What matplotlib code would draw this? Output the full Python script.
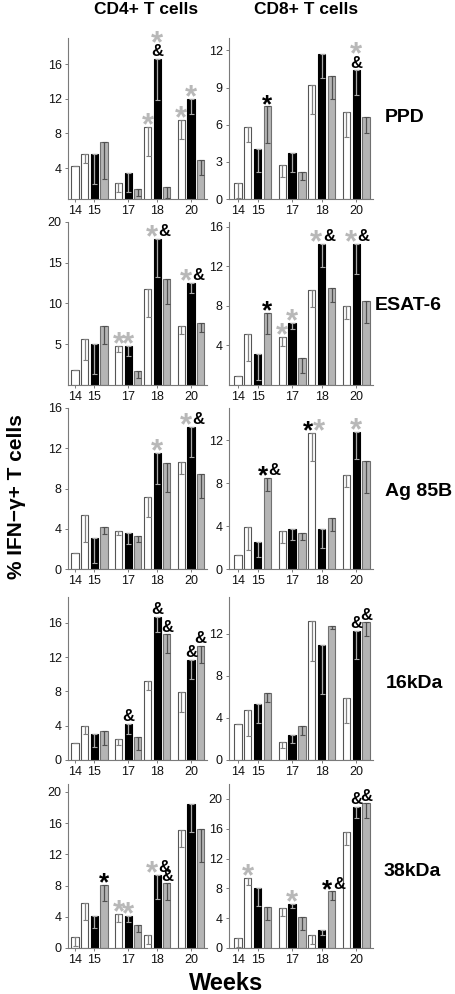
import matplotlib
matplotlib.use("Agg")
import matplotlib.pyplot as plt
from matplotlib.textpath import TextPath
from matplotlib.font_manager import FontProperties
import numpy as np

# ---------------- data ----------------
weeks = ['14', '15', '17', '18', '20']
antigens = ['PPD', 'ESAT-6', 'Ag 85B', '16kDa', '38kDa']
cells = ['CD4+ T cells', 'CD8+ T cells']

# white series: weeks 14,15,17,18,20 ; black & gray: weeks 15,17,18,20
cd4_white = [
    [4.3, 5.65, 2.3, 8.7, 9.55],
    [1.9, 5.6, 4.8, 11.8, 7.3],
    [1.6, 5.4, 3.8, 7.15, 10.6],
    [1.95, 3.95, 2.4, 9.2, 7.9],
    [1.4, 5.8, 4.4, 1.7, 15.15],
]
cd4_white_err = [
    [0, 1.0, 1.1, 3.3, 2.15],
    [0, 2.5, 0.7, 3.4, 1.0],
    [0, 2.75, 0.4, 1.95, 1.2],
    [0, 0.95, 0.6, 1.05, 2.35],
    [1.2, 2.2, 1.1, 1.15, 2.2],
]
cd4_black = [
    [5.65, 3.4, 16.6, 12.0],
    [5.0, 4.8, 17.9, 12.5],
    [3.1, 3.6, 11.5, 14.1],
    [3.0, 4.25, 16.7, 11.7],
    [4.15, 4.15, 9.4, 18.4],
]
cd4_black_err = [
    [3.5, 2.2, 4.7, 1.7],
    [3.7, 1.2, 4.6, 1.2],
    [2.5, 1.1, 3.1, 3.0],
    [1.45, 1.25, 1.75, 2.3],
    [1.65, 0.85, 3.15, 3.6],
]
cd4_gray = [
    [7.0, 1.65, 1.85, 4.95],
    [7.3, 1.7, 12.95, 7.6],
    [4.2, 3.3, 10.5, 9.4],
    [3.4, 2.7, 14.65, 13.3],
    [8.1, 3.0, 8.3, 15.25],
]
cd4_gray_err = [
    [4.2, 0.85, 1.25, 1.75],
    [2.3, 0.8, 3.05, 1.1],
    [0.7, 0.6, 2.8, 2.35],
    [1.6, 1.5, 2.15, 2.05],
    [2.1, 0.95, 2.1, 4.25],
]

cd8_white = [
    [1.3, 5.8, 2.75, 9.2, 7.0],
    [0.95, 5.2, 4.9, 9.6, 8.0],
    [1.3, 3.9, 3.55, 12.7, 8.75],
    [3.4, 4.8, 1.75, 13.2, 5.9],
    [1.4, 9.45, 5.4, 1.8, 15.6],
]
cd8_white_err = [
    [1.2, 1.2, 1.0, 2.3, 2.0],
    [0, 2.8, 1.0, 1.7, 1.3],
    [0, 2.1, 1.15, 2.6, 1.1],
    [0, 2.5, 0.6, 3.8, 2.35],
    [1.2, 1.05, 1.15, 1.2, 1.8],
]
cd8_black = [
    [4.0, 3.7, 11.7, 10.4],
    [3.1, 6.3, 14.3, 14.3],
    [2.5, 3.7, 3.7, 12.8],
    [5.3, 2.4, 10.9, 12.3],
    [8.0, 5.95, 2.4, 18.95],
]
cd8_black_err = [
    [1.8, 1.5, 1.9, 2.0],
    [2.6, 0.6, 2.4, 3.1],
    [1.4, 1.0, 1.7, 2.55],
    [1.8, 0.8, 4.6, 2.7],
    [2.4, 0.65, 0.7, 1.55],
]
cd8_gray = [
    [7.5, 2.2, 9.9, 6.6],
    [7.3, 2.7, 9.8, 8.5],
    [8.5, 3.35, 4.75, 10.1],
    [6.4, 3.2, 12.7, 13.1],
    [5.5, 4.1, 7.6, 19.4],
]
cd8_gray_err = [
    [3.0, 0.7, 1.85, 1.3],
    [2.1, 1.5, 1.4, 2.2],
    [1.2, 0.65, 1.25, 3.0],
    [0.9, 0.8, 0.2, 1.3],
    [1.7, 1.7, 1.1, 1.9],
]

# significance marks: (series, week, layout, [(symbol, colour-key)])
cd4_marks = [
    [('white', '18', 'v', [('*', 'g')]), ('black', '18', 'v', [('&', 'k'), ('*', 'g')]),
     ('white', '20', 'v', [('*', 'g')]), ('black', '20', 'v', [('*', 'g')])],
    [('white', '17', 'v', [('*', 'g')]), ('black', '17', 'v', [('*', 'g')]),
     ('black', '18', 'h', [('*', 'g'), ('&', 'k')]), ('black', '20', 'h', [('*', 'g'), ('&', 'k')])],
    [('black', '18', 'v', [('*', 'g')]), ('black', '20', 'h', [('*', 'g'), ('&', 'k')])],
    [('black', '17', 'v', [('&', 'k')]), ('black', '18', 'v', [('&', 'k')]), ('gray', '18', 'v', [('&', 'k')]),
     ('black', '20', 'v', [('&', 'k')]), ('gray', '20', 'v', [('&', 'k')])],
    [('gray', '15', 'v', [('*', 'k')]), ('white', '17', 'v', [('*', 'g')]), ('black', '17', 'v', [('*', 'g')]),
     ('black', '18', 'h', [('*', 'g'), ('&', 'k')]), ('gray', '18', 'v', [('&', 'k')])],
]
cd8_marks = [
    [('gray', '15', 'v', [('*', 'k')]), ('black', '20', 'v', [('&', 'k'), ('*', 'g')])],
    [('gray', '15', 'v', [('*', 'k')]), ('white', '17', 'v', [('*', 'g')]), ('black', '17', 'v', [('*', 'g')]),
     ('black', '18', 'h', [('*', 'g'), ('&', 'k')]), ('black', '20', 'h', [('*', 'g'), ('&', 'k')])],
    [('gray', '15', 'h', [('*', 'k'), ('&', 'k')]), ('white', '18', 'h', [('*', 'k'), ('*', 'g')]),
     ('black', '20', 'v', [('*', 'g')])],
    [('black', '20', 'v', [('&', 'k')]), ('gray', '20', 'v', [('&', 'k')])],
    [('white', '15', 'v', [('*', 'g')]), ('black', '17', 'v', [('*', 'g')]),
     ('gray', '18', 'h', [('*', 'k'), ('&', 'k')]), ('black', '20', 'v', [('&', 'k')]),
     ('gray', '20', 'v', [('&', 'k')])],
]

cd4_ylim = [(0.45, 19), (0, 20), (0, 16), (0, 19), (0, 21)]
cd8_ylim = [(0, 13), (0, 16.5), (0, 15), (0, 15.5), (0, 22)]
cd4_yticks = [[4, 8, 12, 16], [5, 10, 15, 20], [0, 4, 8, 12, 16], [0, 4, 8, 12, 16], [0, 4, 8, 12, 16, 20]]
cd8_yticks = [[0, 3, 6, 9, 12], [4, 8, 12, 16], [0, 4, 8, 12], [0, 4, 8, 12], [0, 4, 8, 12, 16, 20]]

# ---------------- layout ----------------
W, H = 456, 994
FONT = 'Liberation Sans'
plt.rcParams['font.family'] = [FONT, 'DejaVu Sans']

# bar slot positions
white_pos = {'14': 0, '15': 1, '17': 4.5, '18': 7.5, '20': 11}
black_pos = {'15': 2, '17': 5.5, '18': 8.5, '20': 12}
gray_pos = {'15': 3, '17': 6.5, '18': 9.5, '20': 13}
tick_pos = [0, 2, 5.5, 8.5, 12]

row_top = [38, 222, 408, 597, 784]
row_bot = [199, 385, 569, 760, 948]
col_left = [68, 229]
col_right = [207, 373]
col_xlim = [(-0.72, 13.65), (-0.9, 13.7)]

COL_GRAY = '#b5b5b5'
STAR_GRAY = '#b8b8b8'
mark_color = {'k': 'black', 'g': STAR_GRAY}

# glyph sizing (target visual heights in points)
BOLD = FontProperties(family=FONT, weight='bold')


def glyph_ext(sym, fs):
    e = TextPath((0, 0), sym, size=fs, prop=BOLD).get_extents()
    return e.y0, e.y1


_s0, _s1 = glyph_ext('*', 10)
STAR_FS = {'g': 8.3 / ((_s1 - _s0) / 10), 'k': 7.0 / ((_s1 - _s0) / 10)}
AMP_FS = 12


def sym_fs(sym, c):
    return STAR_FS[c] if sym == '*' else AMP_FS


fig = plt.figure(figsize=(W / 100, H / 100), dpi=100)

BW = 0.74


def draw_marks(ax, marks, series_vals):
    for series, wk, layout, items in marks:
        if series == 'white':
            x = white_pos[wk]
            y = series_vals['white'][weeks.index(wk)]
        elif series == 'black':
            x = black_pos[wk]
            y = series_vals['black'][weeks.index(wk) - 1]
        else:
            x = gray_pos[wk]
            y = series_vals['gray'][weeks.index(wk) - 1]
        gap = 1.8
        if layout == 'v':
            cursor = gap
            for sym, c in items:
                fs = sym_fs(sym, c)
                y0, y1 = glyph_ext(sym, fs)
                ax.annotate(sym, (x, y), xytext=(0, cursor - y0), textcoords='offset points',
                            ha='center', va='baseline', fontsize=fs, fontweight='bold',
                            color=mark_color[c], annotation_clip=False)
                cursor += (y1 - y0) + 1.5
        else:
            xc = x + 0.1
            for i, (sym, c) in enumerate(items):
                fs = sym_fs(sym, c)
                y0, y1 = glyph_ext(sym, fs)
                ha = 'right' if i == 0 else 'left'
                dx = -0.2 if i == 0 else 0.2
                ax.annotate(sym, (xc, y), xytext=(dx, gap - y0), textcoords='offset points',
                            ha=ha, va='baseline', fontsize=fs, fontweight='bold',
                            color=mark_color[c], annotation_clip=False)


for ci in range(2):
    whites = [cd4_white, cd8_white][ci]
    whites_e = [cd4_white_err, cd8_white_err][ci]
    blacks = [cd4_black, cd8_black][ci]
    blacks_e = [cd4_black_err, cd8_black_err][ci]
    grays = [cd4_gray, cd8_gray][ci]
    grays_e = [cd4_gray_err, cd8_gray_err][ci]
    marks = [cd4_marks, cd8_marks][ci]
    ylims = [cd4_ylim, cd8_ylim][ci]
    yticks = [cd4_yticks, cd8_yticks][ci]
    for ri in range(5):
        left = col_left[ci] / W
        width = (col_right[ci] - col_left[ci]) / W
        bottom = 1 - row_bot[ri] / H
        height = (row_bot[ri] - row_top[ri]) / H
        ax = fig.add_axes([left, bottom, width, height])
        xw = [white_pos[w] for w in weeks]
        xb = [black_pos[w] for w in weeks[1:]]
        xg = [gray_pos[w] for w in weeks[1:]]
        ax.bar(xw, whites[ri], BW, color='white', edgecolor='#555555', linewidth=0.8, zorder=2,
               yerr=[whites_e[ri], [0] * 5],
               error_kw=dict(ecolor='#808080', elinewidth=0.9, capsize=1.8, capthick=0.8))
        ax.bar(xb, blacks[ri], BW, color='black', edgecolor='black', linewidth=0.8, zorder=2,
               yerr=[blacks_e[ri], [0] * 4],
               error_kw=dict(ecolor='#a8a8a8', elinewidth=0.9, capsize=1.8, capthick=0.8))
        ax.bar(xg, grays[ri], BW, color=COL_GRAY, edgecolor='#707070', linewidth=0.8, zorder=2,
               yerr=[grays_e[ri], [0] * 4],
               error_kw=dict(ecolor='#505050', elinewidth=0.9, capsize=1.8, capthick=0.8))
        ax.set_xlim(*col_xlim[ci])
        ax.set_ylim(*ylims[ri])
        ax.set_yticks(yticks[ri])
        ax.set_yticklabels([str(t) for t in yticks[ri]])
        ax.set_xticks(tick_pos)
        ax.set_xticklabels(weeks)
        for s in ['top', 'right']:
            ax.spines[s].set_visible(False)
        ax.spines['left'].set_color('#7a7a7a')
        ax.spines['bottom'].set_color('#7a7a7a')
        ax.spines['left'].set_linewidth(0.8)
        ax.spines['bottom'].set_linewidth(0.8)
        ax.tick_params(axis='y', direction='out', length=2.5, width=0.7, color='#7a7a7a',
                       labelsize=9, pad=2, labelcolor='#111111')
        ax.tick_params(axis='x', direction='out', length=2.5, width=0.7, color='#7a7a7a',
                       labelsize=9, pad=2, labelcolor='#111111')
        ax.patch.set_alpha(0)
        draw_marks(ax, marks[ri], {'white': whites[ri], 'black': blacks[ri], 'gray': grays[ri]})

# column titles
col_title_x = [146, 306]
for ci in range(2):
    fig.text(col_title_x[ci] / W, 1 - 10 / H, cells[ci], ha='center', va='center',
             fontsize=12.5, fontweight='bold')

# row labels
row_label_x = [385, 375, 385, 386, 384]
row_label_y = [118, 306, 492, 683, 871]
for ri in range(5):
    fig.text(row_label_x[ri] / W, 1 - row_label_y[ri] / H, antigens[ri], ha='left', va='center',
             fontsize=14, fontweight='bold')

fig.text(17 / W, 1 - 497 / H, '% IFN\u2212\u03b3+ T cells', rotation=90, ha='center', va='center',
         fontsize=15, fontweight='bold')
fig.text(226 / W, 1 - 983 / H, 'Weeks', ha='center', va='center', fontsize=17, fontweight='bold')

fig.savefig('out.png', dpi=100)
